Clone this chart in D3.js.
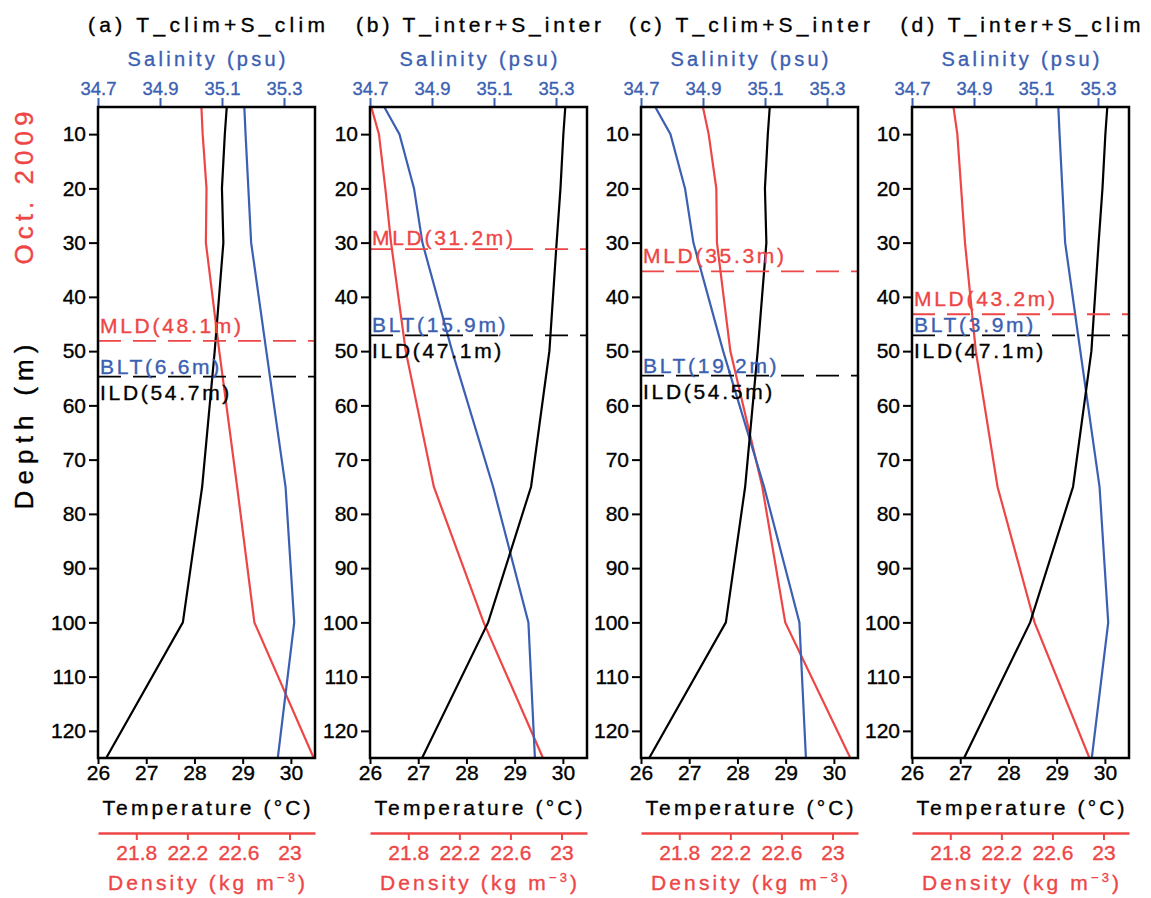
<!DOCTYPE html>
<html>
<head>
<meta charset="utf-8">
<script src="https://cdn.jsdelivr.net/npm/d3@7"></script>
<style>
  body { margin: 0; background: #fff; }
  text { font-family: "Liberation Sans", Arial, sans-serif; stroke-width: 0.35px; }
</style>
</head>
<body>
<div id="chart"></div>
<script>
// four sensitivity experiments of T/S profiles, Oct. 2009

var depths = [5, 10, 20, 30, 50, 75, 100, 125];
var tClim  = [28.67, 28.63, 28.57, 28.60, 28.42, 28.16, 27.76, 26.17];
var tInter = [30.05, 30.01, 29.95, 29.87, 29.72, 29.34, 28.45, 27.08];
var sClim  = [35.172, 35.176, 35.185, 35.194, 35.243, 35.305, 35.333, 35.280];
var sInter = [34.746, 34.795, 34.842, 34.869, 34.965, 35.097, 35.211, 35.232];
var rhoA = [22.31, 22.32, 22.35, 22.345, 22.45, 22.59, 22.725, 23.19];
var rhoB = [21.51, 21.57, 21.62, 21.665, 21.78, 22.00, 22.39, 22.855];
var rhoC = [21.985, 22.03, 22.09, 22.095, 22.20, 22.45, 22.63, 23.14];
var rhoD = [21.825, 21.855, 21.885, 21.915, 22.00, 22.17, 22.46, 22.89];

var titles = ["(a)  T_clim+S_clim", "(b)  T_inter+S_inter",
              "(c)  T_clim+S_inter", "(d)  T_inter+S_clim"];
var titleLen = [237, 245, 241, 240];
var mld = [48.1, 31.2, 35.3, 43.2];
var ild = [54.7, 47.1, 54.5, 47.1];
var blt = [6.6, 15.9, 19.2, 3.9];
var mldOff = [-8, -4, -8, -8];

var tempTicks = [26, 27, 28, 29, 30];
var salTicks = [34.7, 34.9, 35.1, 35.3];
var rhoTicks = [21.8, 22.2, 22.6, 23];
var depthTicks = d3.range(10, 121, 10);

var panels = [
  {t: tClim,  s: sClim,  r: rhoA},
  {t: tInter, s: sInter, r: rhoB},
  {t: tClim,  s: sInter, r: rhoC},
  {t: tInter, s: sClim,  r: rhoD}
];

var W = 1151, H = 898,
    lefts = [98, 370, 641, 912], pw = 217,
    topY = 107, botY = 758, rhoAxisY = 833,
    red = "#ee4646", blue = "#3b5fb2";

var svg = d3.select("#chart").append("svg")
  .attr("width", W).attr("height", H)
  .style("background", "#fff");

var y = d3.scaleLinear().domain([5, 125]).range([topY, botY]);

function styleAxis(g, color, fs){
  g.selectAll("line").attr("stroke", color).attr("stroke-width", 2);
  g.selectAll("text").attr("fill", color).attr("stroke", color).style("font-size", fs + "px")
    .style("font-family", "'Liberation Sans', Arial, sans-serif");
}

panels.forEach(function(p, i){
  var x0 = lefts[i], x1 = x0 + pw, cx = x0 + pw / 2;
  var xT = d3.scaleLinear().domain([26, 30.5]).range([x0, x1]);
  var xS = d3.scaleLinear().domain([34.7, 35.4]).range([x0, x1]);
  var xR = d3.scaleLinear().domain([21.5, 23.2]).range([x0, x1]);

  var g = svg.append("g");
  g.append("clipPath").attr("id", "clip" + i)
    .append("rect").attr("x", x0).attr("y", topY).attr("width", pw).attr("height", botY - topY);

  // axes
  var la = g.append("g").attr("transform", "translate(" + x0 + ",0)")
    .call(d3.axisLeft(y).tickValues(depthTicks).tickSize(9).tickPadding(3).tickFormat(d3.format("d")));
  la.select(".domain").remove();
  styleAxis(la, "#000", 21);

  var ta = g.append("g").attr("transform", "translate(0," + topY + ")")
    .call(d3.axisTop(xS).tickValues(salTicks).tickSize(9).tickPadding(3).tickFormat(d3.format(".1f")));
  ta.select(".domain").remove();
  styleAxis(ta, blue, 18.5);

  var ba = g.append("g").attr("transform", "translate(0," + botY + ")")
    .call(d3.axisBottom(xT).tickValues(tempTicks).tickSize(6).tickPadding(1).tickFormat(d3.format("d")));
  ba.select(".domain").remove();
  styleAxis(ba, "#000", 21);

  var ra = g.append("g").attr("transform", "translate(0," + rhoAxisY + ")")
    .call(d3.axisBottom(xR).tickValues(rhoTicks).tickSize(7).tickSizeOuter(0).tickPadding(5).tickFormat(d => d));
  ra.select(".domain").attr("stroke", red).attr("stroke-width", 2.5);
  styleAxis(ra, red, 21);

  // profiles
  var lines = [
    {vals: p.r, sc: xR, col: red},
    {vals: p.s, sc: xS, col: blue},
    {vals: p.t, sc: xT, col: "#000"}
  ];
  lines.forEach(function(L){
    var line = d3.line().x(d => L.sc(d[1])).y(d => y(d[0]));
    g.append("path")
      .datum(d3.zip(depths, L.vals))
      .attr("clip-path", "url(#clip" + i + ")")
      .attr("d", line)
      .attr("fill", "none")
      .attr("stroke", L.col)
      .attr("stroke-width", 2.2);
  });

  // MLD / ILD dashed lines
  g.append("line").attr("x1", x0).attr("x2", x1)
    .attr("y1", y(mld[i])).attr("y2", y(mld[i]))
    .attr("stroke", red).attr("stroke-width", 1.8).attr("stroke-dasharray", "23,12");
  g.append("line").attr("x1", x0).attr("x2", x1)
    .attr("y1", y(ild[i])).attr("y2", y(ild[i]))
    .attr("stroke", "#000").attr("stroke-width", 1.8).attr("stroke-dasharray", "23,12");

  var lab = [
    {s: "MLD(" + mld[i] + "m)", yy: y(mld[i]) + mldOff[i], col: red},
    {s: "BLT(" + blt[i] + "m)", yy: y(ild[i]) - 3, col: blue},
    {s: "ILD(" + ild[i] + "m)", yy: y(ild[i]) + 23, col: "#000"}
  ];
  g.selectAll("text.lab").data(lab).join("text")
    .attr("class", "lab")
    .attr("x", x0 + 2).attr("y", d => d.yy)
    .attr("fill", d => d.col).attr("stroke", d => d.col)
    .style("font-size", "21px").style("letter-spacing", "2.7px")
    .text(d => d.s);

  // frame
  g.append("rect").attr("x", x0).attr("y", topY).attr("width", pw).attr("height", botY - topY)
    .attr("fill", "none").attr("stroke", "#000").attr("stroke-width", 2.5);

  // texts
  g.append("text").attr("x", cx).attr("y", 32).attr("text-anchor", "middle")
    .attr("textLength", titleLen[i]).attr("lengthAdjust", "spacing")
    .attr("stroke", "#000").style("font-size", "21px").text(titles[i]);
  g.append("text").attr("x", cx).attr("y", 66).attr("text-anchor", "middle")
    .attr("textLength", 158).attr("lengthAdjust", "spacing")
    .attr("fill", blue).attr("stroke", blue).style("font-size", "20px").text("Salinity  (psu)");
  g.append("text").attr("x", cx).attr("y", 815).attr("text-anchor", "middle")
    .attr("textLength", 208).attr("lengthAdjust", "spacing")
    .attr("stroke", "#000").style("font-size", "21px").text("Temperature  (°C)");
  var dt = g.append("text").attr("x", cx).attr("y", 890).attr("text-anchor", "middle")
    .attr("textLength", 197).attr("lengthAdjust", "spacing")
    .attr("fill", red).attr("stroke", red).style("font-size", "21px");
  dt.append("tspan").text("Density  (kg  m");
  dt.append("tspan").attr("dy", -8).style("font-size", "13px").text("−3");
  dt.append("tspan").attr("dy", 8).text(")");
});

svg.append("text").attr("transform", "translate(33,427) rotate(-90)")
  .attr("text-anchor", "middle").attr("textLength", 165).attr("lengthAdjust", "spacing")
  .attr("stroke", "#000").style("font-size", "26px").text("Depth  (m)");
svg.append("text").attr("transform", "translate(33,188) rotate(-90)")
  .attr("text-anchor", "middle").attr("textLength", 153).attr("lengthAdjust", "spacing")
  .attr("fill", red).attr("stroke", red).style("font-size", "26px").text("Oct.  2009");
</script>
</body>
</html>
